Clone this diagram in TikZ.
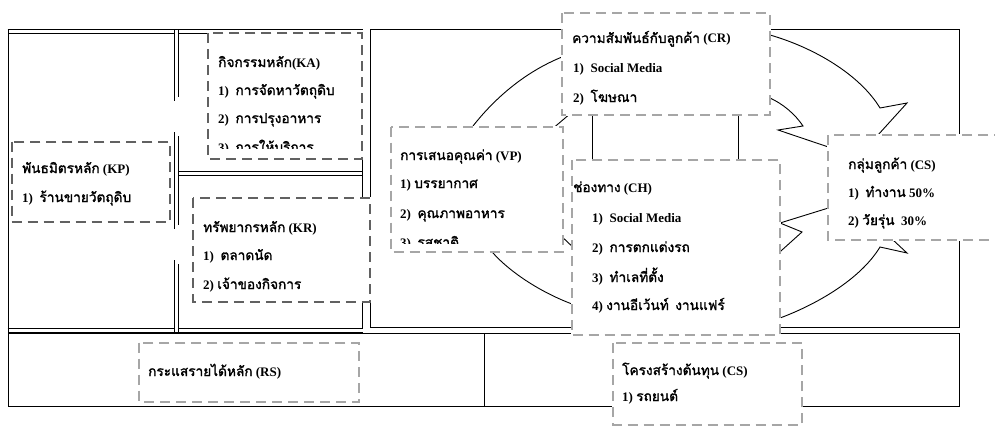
\documentclass[tikz,border=0pt]{standalone}
\usepackage{fontspec}
\setmainfont{Liberation Serif}
\newfontfamily\thf[Script=Thai,Scale=1.05,AutoFakeBold=1.6]{Loma}
\newcommand\T[1]{{\thf #1}}
\begin{document}
\begin{tikzpicture}[x=1pt,y=-1pt,
  dbl/.style={draw=black,line width=0.8pt,double=white,double distance=3.2pt},
  ln/.style={draw=black,line width=0.9pt},
  arr/.style={draw=black,line width=0.9pt,line join=miter},
  boxfill/.style={fill=white},
  boxunder/.style={draw=white,line width=2.4pt},
  dkbox/.style={draw=black!62,line width=2pt,dash pattern=on 10pt off 6pt},
  ltbox/.style={draw=black!35,line width=2pt,dash pattern=on 10pt off 6pt},
  txt/.style={anchor=base west,inner sep=0pt,font=\bfseries\fontsize{13}{15}\selectfont}]
\useasboundingbox (0,0) rectangle (995,428);
\clip (0,0) rectangle (995,428);

% ---------- table / frame lines ----------
\draw[dbl] (7.6,31.3) -- (362.5,31.3);
\draw[dbl] (7.6,330.8) -- (362.5,330.8);
\draw[ln,line width=1.6pt] (8.5,29.3) -- (8.5,406.7);
\draw[dbl] (176.3,173.5) -- (362,173.5);
\draw[dbl] (178,186) -- (362,186);
\draw[dbl] (176.3,29.8) -- (176.3,99) -- (208,99);
\draw[dbl] (208,134) -- (176.3,134) -- (176.3,227) -- (195,227);
\draw[dbl] (195,262) -- (176.3,262) -- (176.3,332.3);
\draw[ln] (362,33) -- (362,328.5);
\draw[ln] (370,29.3) rectangle (959,327.7);
\draw[ln] (8.5,333.3) -- (959,333.3) -- (959,406.7) -- (8.5,406.7);
\draw[ln] (484,333.3) -- (484,406.7);
\draw[ln] (592,112) -- (592,162);
\draw[ln] (738,112) -- (738,162);

% ---------- circular arrows ----------
\draw[arr] (471,130) -- (473,126) .. controls (495,98) and (525,72) .. (562,57) -- (570,54);
\draw[arr] (551,130) -- (571,113);
\draw[arr] (760,32) -- (770,35) .. controls (815,48) and (860,75) .. (880,108)
  -- (907,103) -- (858,157) -- (778,130) -- (803,126)
  .. controls (795,114) and (783,104) .. (770,98) -- (760,93);
\draw[arr] (772,322) -- (780,318) .. controls (815,305) and (860,280) .. (880,247)
  -- (907,253) -- (851,201) -- (780,223) -- (802,232) -- (772,259);
\draw[arr] (489,248) -- (493,253) .. controls (510,272) and (540,292) .. (572,304) -- (580,307);
\draw[arr] (558,233) -- (577,251);

% ---------- KA ----------
\fill[boxfill] (208,33.3) rectangle (362,159);
\begin{scope}
\clip (209,34) rectangle (361,148);
\node[txt] (ka0) at (218,67) {\T{กิจกรรมหลัก}(KA)};
\node[txt] (ka1) at (218,95) {1)\ \ \T{การจัดหาวัตถุดิบ}};
\node[txt] (ka2) at (218,123) {2)\ \ \T{การปรุงอาหาร}};
\node[txt] (ka3) at (218,152) {3)\ \ \T{การให้บริการ}};
\end{scope}
\draw[boxunder] (208,33.3) rectangle (362,159);
\draw[dkbox] (208,33.3) rectangle (362,159);

% ---------- KP ----------
\fill[boxfill] (11.7,141.7) rectangle (170,221.7);
\node[txt] (kp0) at (22,173) {\T{พันธมิตรหลัก} (KP)};
\node[txt] (kp1) at (22,202) {1)\ \ \T{ร้านขายวัตถุดิบ}};
\draw[boxunder] (11.7,141.7) rectangle (170,221.7);
\draw[dkbox] (11.7,141.7) rectangle (170,221.7);

% ---------- KR ----------
\fill[boxfill] (193.3,198.3) rectangle (370,301.7);
\node[txt] (kr0) at (203,232) {\T{ทรัพยากรหลัก} (KR)};
\node[txt] (kr1) at (203,260) {1)\ \ \T{ตลาดนัด}};
\node[txt] (kr2) at (203,289) {2) \T{เจ้าของกิจการ}};
\draw[boxunder] (193.3,198.3) rectangle (370,301.7);
\draw[dkbox] (193.3,198.3) rectangle (370,301.7);

% ---------- VP ----------
\fill[boxfill] (390.7,126.7) rectangle (562.7,251.7);
\begin{scope}
\clip (392,128) rectangle (561,243);
\node[txt] (vp0) at (400,160) {\T{การเสนอคุณค่า} (VP)};
\node[txt] (vp1) at (400,188) {1) \T{บรรยากาศ}};
\node[txt] (vp2) at (400,218) {2)\ \ \T{คุณภาพอาหาร}};
\node[txt] (vp3) at (400,247) {3)\ \ \T{รสชาติ}};
\end{scope}
\draw[boxunder] (390.7,126.7) rectangle (562.7,251.7);
\draw[ltbox] (390.7,126.7) rectangle (562.7,251.7);

% ---------- CR ----------
\fill[boxfill] (561.7,13.3) rectangle (770,115);
\node[txt] (cr0) at (572,43) {\T{ความสัมพันธ์กับลูกค้า} (CR)};
\node[txt] (cr1) at (573,73) {1)\ \ Social Media};
\node[txt] (cr2) at (573,102) {2)\ \ \T{โฆษณา}};
\draw[boxunder] (561.7,13.3) rectangle (770,115);
\draw[ltbox] (561.7,13.3) rectangle (770,115);

% ---------- CH ----------
\fill[boxfill] (571.7,160) rectangle (780,335);
\node[txt] (ch0) at (573,192) {\T{ช่องทาง} (CH)};
\node[txt] (ch1) at (592,222) {1)\ \ Social Media};
\node[txt] (ch2) at (592,252) {2)\ \ \T{การตกแต่งรถ}};
\node[txt] (ch3) at (592,282) {3)\ \ \T{ทำเลที่ตั้ง}};
\node[txt] (ch4) at (592,310) {4) \T{งานอีเว้นท์}\ \ \T{งานแฟร์}};
\draw[boxunder] (571.7,160) rectangle (780,335);
\draw[ltbox] (571.7,160) rectangle (780,335);

% ---------- CS (customers) ----------
\fill[boxfill] (828,135) rectangle (1003,240);
\node[txt] (cs0) at (848,169) {\T{กลุ่มลูกค้า} (CS)};
\node[txt] (cs1) at (848,197) {1)\ \ \T{ทำงาน} 50\%};
\node[txt] (cs2) at (848,225) {2) \T{วัยรุ่น}\ \ 30\%};
\draw[boxunder] (828,135) rectangle (1003,240);
\draw[ltbox] (828,135) rectangle (1003,240);

% ---------- RS ----------
\fill[boxfill] (139.3,342.7) rectangle (359.3,401.7);
\node[txt] (rs0) at (148,376) {\T{กระแสรายได้หลัก} (RS)};
\draw[boxunder] (139.3,342.7) rectangle (359.3,401.7);
\draw[ltbox] (139.3,342.7) rectangle (359.3,401.7);

% ---------- Cost structure ----------
\fill[boxfill] (613.3,343.3) rectangle (801.7,425);
\node[txt] (co0) at (622,375) {\T{โครงสร้างต้นทุน} (CS)};
\node[txt] (co1) at (622,401) {1) \T{รถยนต์}};
\draw[boxunder] (613.3,343.3) rectangle (801.7,425);
\draw[ltbox] (613.3,343.3) rectangle (801.7,425);
\end{tikzpicture}
\end{document}
